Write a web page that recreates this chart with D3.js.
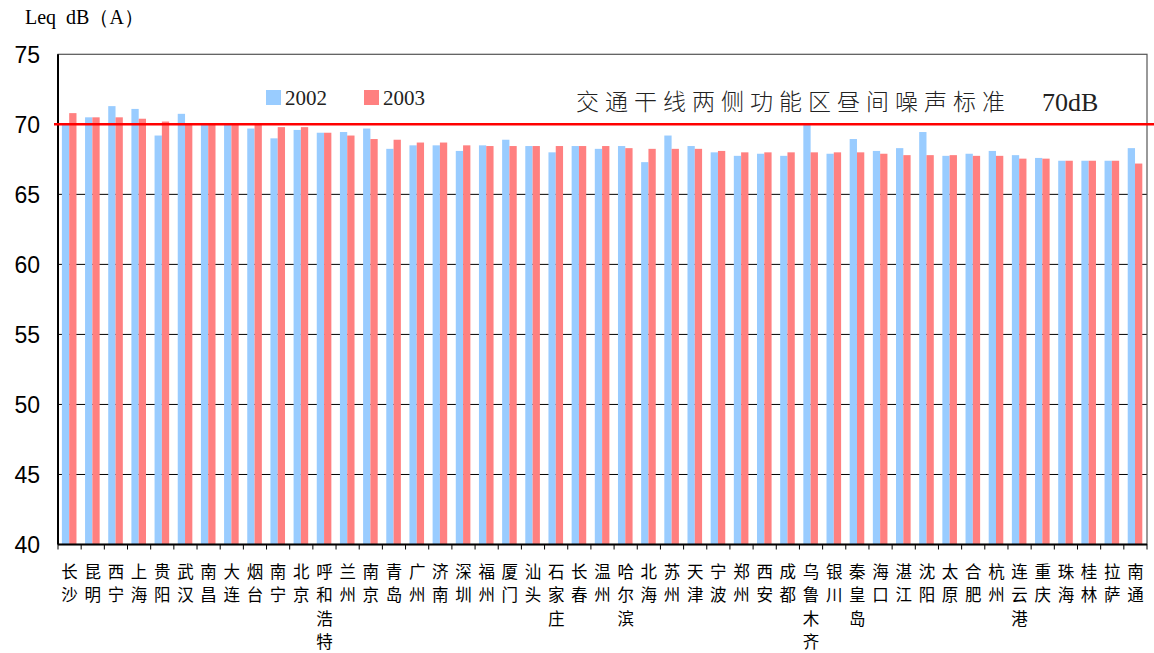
<!DOCTYPE html>
<html><head><meta charset="utf-8">
<script src="https://cdn.jsdelivr.net/npm/d3@7"></script>
<style>
html,body{margin:0;padding:0;background:#fff;}
svg{display:block;}
</style></head>
<body>
<script>
const cities = ["长沙","昆明","西宁","上海","贵阳","武汉","南昌","大连","烟台","南宁","北京","呼和浩特","兰州","南京","青岛","广州","济南","深圳","福州","厦门","汕头","石家庄","长春","温州","哈尔滨","北海","苏州","天津","宁波","郑州","西安","成都","乌鲁木齐","银川","秦皇岛","海口","湛江","沈阳","太原","合肥","杭州","连云港","重庆","珠海","桂林","拉萨","南通"];
const v2002 = [70.0,70.5,71.3,71.1,69.2,70.75,70.0,70.0,69.7,69.0,69.6,69.4,69.45,69.7,68.25,68.5,68.5,68.1,68.5,68.9,68.45,68.0,68.45,68.25,68.45,67.3,69.2,68.45,68.0,67.75,67.9,67.75,69.95,67.9,68.95,68.1,68.3,69.45,67.75,67.9,68.1,67.8,67.6,67.4,67.4,67.4,68.3];
const v2003 = [70.8,70.5,70.5,70.4,70.2,70.0,70.0,70.0,70.0,69.8,69.8,69.4,69.2,68.95,68.9,68.7,68.7,68.5,68.45,68.45,68.45,68.45,68.45,68.45,68.3,68.25,68.25,68.25,68.1,68.0,68.0,68.0,68.0,68.0,68.0,67.9,67.8,67.8,67.8,67.75,67.75,67.55,67.55,67.4,67.4,67.4,67.2];
const seriesNames = ["2002","2003"];
const seriesColors = ["#99CCFF","#FF8080"];
const yTicks = [40,45,50,55,60,65,70,75];
const standardValue = 70;
const titleText = "交通干线两侧功能区昼间噪声标准";
const standardLabel = "70dB";
const yTitle = "Leq  dB（A）";

(function(){
const W = 1154, H = 653;
const pL = 58, pR = 1147, pT = 54.3, pB = 544.5;

const svg = d3.select("body").append("svg").attr("width", W).attr("height", H);

const x = d3.scaleBand().domain(cities).range([pL, pR]).padding(0);
const y = d3.scaleLinear().domain([40, 75]).range([pB, pT]);
const bw = 7.3;

// gridlines
svg.append("g").selectAll("line").data(yTicks.filter(t => t > 40 && t < 75)).join("line")
  .attr("x1", pL).attr("x2", pR).attr("y1", d => y(d)).attr("y2", d => y(d))
  .attr("stroke", "#000").attr("stroke-width", 1);

// bars
const data = cities.map((c, i) => ({c, vals: [v2002[i], v2003[i]]}));
const g = svg.append("g");
data.forEach(d => {
  const cx = x(d.c) + x.bandwidth() / 2 - 0.4;
  d.vals.forEach((v, k) => {
    g.append("rect")
      .attr("x", cx - bw + k * bw)
      .attr("y", y(v))
      .attr("width", bw)
      .attr("height", y(40) - y(v))
      .attr("fill", seriesColors[k]);
  });
});

// frame
svg.append("rect").attr("x", pL).attr("y", pT).attr("width", pR - pL).attr("height", pB - pT)
  .attr("fill", "none").attr("stroke", "#555").attr("stroke-width", 1.2);
svg.append("line").attr("x1", pL).attr("x2", pL).attr("y1", pT).attr("y2", pB)
  .attr("stroke", "#000").attr("stroke-width", 2);
svg.append("line").attr("x1", pL).attr("x2", pR).attr("y1", pB).attr("y2", pB)
  .attr("stroke", "#000").attr("stroke-width", 2);

// x ticks at category boundaries
const bounds = cities.map(c => x(c)).concat([pR]);
svg.append("g").selectAll("line").data(bounds).join("line")
  .attr("x1", d => d).attr("x2", d => d).attr("y1", pB).attr("y2", pB + 5)
  .attr("stroke", "#000").attr("stroke-width", 1);

// y labels
svg.append("g").selectAll("text").data(yTicks).join("text")
  .attr("x", 40).attr("y", d => y(d)).attr("dy", "0.36em")
  .attr("text-anchor", "end")
  .attr("font-family", "Liberation Sans, Arial, sans-serif").attr("font-size", 23)
  .attr("fill", "#000").text(d => d);

// x labels (vertical characters)
const xl = svg.append("g");
cities.forEach(c => {
  const cx = x(c) + x.bandwidth() / 2;
  Array.from(c).forEach((ch, j) => {
    xl.append("text").attr("x", cx).attr("y", 572 + j * 23.5).attr("dy", "0.36em")
      .attr("text-anchor", "middle")
      .attr("font-family", "Noto Sans CJK SC, sans-serif").attr("font-size", 16.5)
      .attr("fill", "#000").text(ch);
  });
});

// standard line
svg.append("line").attr("x1", 54).attr("x2", W).attr("y1", y(standardValue)).attr("y2", y(standardValue))
  .attr("stroke", "#FF0000").attr("stroke-width", 2.5);

// y title
svg.append("text").attr("x", 25).attr("y", 24)
  .attr("font-family", "Liberation Serif, Times New Roman, serif").attr("font-size", 20)
  .attr("fill", "#000").style("white-space", "pre").text(yTitle);

// legend
const lg = svg.append("g");
const legX = [266, 364];
seriesNames.forEach((s, k) => {
  lg.append("rect").attr("x", legX[k]).attr("y", 90).attr("width", 15).attr("height", 15).attr("fill", seriesColors[k]);
  lg.append("text").attr("x", legX[k] + 19).attr("y", 105)
    .attr("font-family", "Liberation Serif, Times New Roman, serif").attr("font-size", 21)
    .attr("fill", "#222").text(s);
});

// title annotation
svg.append("text").attr("x", 576).attr("y", 102).attr("dy", "0.36em")
  .attr("font-family", "Noto Sans CJK SC, sans-serif").attr("font-size", 23).attr("font-weight", 300)
  .attr("letter-spacing", 6).attr("fill", "#222").text(titleText);
svg.append("text").attr("x", 1042).attr("y", 102).attr("dy", "0.36em")
  .attr("font-family", "Liberation Serif, Times New Roman, serif").attr("font-size", 26)
  .attr("fill", "#222").text(standardLabel);
})();
</script>
</body></html>
